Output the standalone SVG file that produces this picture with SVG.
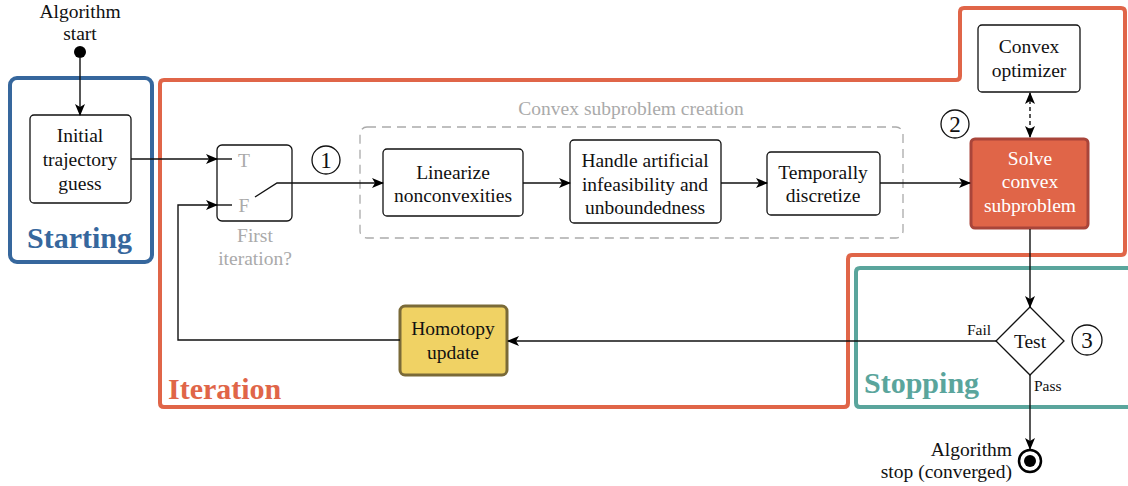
<svg xmlns="http://www.w3.org/2000/svg" width="1128" height="486" viewBox="0 0 1128 486" font-family="'Liberation Serif', 'Times New Roman', serif">
<defs>
<marker id="ah" viewBox="0 0 12 10" refX="11" refY="5" markerWidth="12" markerHeight="10" markerUnits="userSpaceOnUse" orient="auto-start-reverse">
<path d="M0,0 L12,5 L0,10 L3,5 Z" fill="#000"/>
</marker>
<style>
text{font-family:"Liberation Serif","Times New Roman",serif;font-size:19.5px;fill:#111;text-anchor:middle;dominant-baseline:central}
.box{fill:#fff;stroke:#111;stroke-width:1.3}
.conn{fill:none;stroke:#111;stroke-width:1.4}
.grey{fill:#aaa}
.small{font-size:15.5px}
.title{font-weight:bold;font-size:30px;text-anchor:start}
.num{fill:#fff;stroke:#111;stroke-width:1.3}
.n{font-size:23px}
</style>
</defs>
<g id="regions">
<rect x="10" y="78" width="142" height="184" rx="7" fill="none" stroke="#36679d" stroke-width="4"/>
<text class="title" x="27" y="237" style="fill:#36679d">Starting</text>
<path d="M167,80 H956 Q960,80 960,76 V12 Q960,8 964,8 H1121 Q1125,8 1125,12 V251 Q1125,255 1121,255 H852 Q848,255 848,259 V403 Q848,407 844,407 H164 Q160,407 160,403 V84 Q160,80 164,80 Z" fill="none" stroke="#e06548" stroke-width="4"/>
<text class="title" x="168" y="388" style="fill:#e06548">Iteration</text>
<path d="M860,268 H1132 V407 H860 Q856,407 856,403 V272 Q856,268 860,268 Z" fill="none" stroke="#5aa59c" stroke-width="4"/>
<text class="title" x="864" y="382" style="fill:#5aa59c">Stopping</text>
<rect x="360" y="127" width="543" height="111" rx="7" fill="none" stroke="#aaa" stroke-width="1.3" stroke-dasharray="9,6"/>
<text class="grey" x="631" y="108" style="fill:#aaa">Convex subproblem creation</text>
</g>
<g id="start">
<text x="80" y="11">Algorithm</text>
<text x="80" y="33">start</text>
<circle cx="80" cy="52" r="6" fill="#000"/>
</g>
<g id="initial">
<rect class="box" x="30" y="115" width="101" height="88" rx="4"/>
<text x="80" y="135">Initial</text>
<text x="80" y="159">trajectory</text>
<text x="80" y="183">guess</text>
</g>
<g id="switch">
<rect x="217" y="145" width="75" height="76" rx="5" fill="none" stroke="#111" stroke-width="1.3"/>
<text x="244" y="160" style="fill:#aaa">T</text>
<text x="244" y="205" style="fill:#aaa">F</text>
<text x="255" y="235" style="fill:#aaa">First</text>
<text x="255" y="258" style="fill:#aaa">iteration?</text>
</g>
<g id="n1"><circle class="num" cx="326" cy="160" r="14"/><text class="n" x="326" y="160">1</text></g>
<g id="linearize">
<rect class="box" x="383" y="149" width="140" height="67" rx="4"/>
<text x="453" y="172">Linearize</text>
<text x="453" y="195">nonconvexities</text>
</g>
<g id="handle">
<rect class="box" x="570" y="140" width="151" height="83" rx="4"/>
<text x="645" y="160">Handle artificial</text>
<text x="645" y="184">infeasibility and</text>
<text x="645" y="207">unboundedness</text>
</g>
<g id="temporal">
<rect class="box" x="767" y="152" width="113" height="63" rx="4"/>
<text x="823" y="172">Temporally</text>
<text x="823" y="195">discretize</text>
</g>
<g id="optimizer">
<rect class="box" x="978" y="25" width="102" height="67" rx="4"/>
<text x="1029" y="46">Convex</text>
<text x="1029" y="70">optimizer</text>
</g>
<g id="n2"><circle class="num" cx="955" cy="124" r="14"/><text class="n" x="955" y="124">2</text></g>
<g id="solve">
<rect x="971" y="139" width="117" height="89" rx="4" fill="#e06548" stroke="#a9453a" stroke-width="3"/>
<text x="1030" y="158" style="fill:#fff">Solve</text>
<text x="1030" y="181" style="fill:#fff">convex</text>
<text x="1030" y="205" style="fill:#fff">subproblem</text>
</g>
<g id="test">
<polygon points="1030,307 1064,341 1030,375 996,341" fill="#fff" stroke="#111" stroke-width="1.3"/>
<text x="1030" y="341">Test</text>
</g>
<g id="n3"><circle class="num" cx="1087" cy="340" r="15"/><text class="n" x="1087" y="340">3</text></g>
<g id="homotopy">
<rect x="400" y="306" width="107" height="69" rx="5" fill="#f0d264" stroke="#7a6a38" stroke-width="3"/>
<text x="453" y="328">Homotopy</text>
<text x="453" y="352">update</text>
</g>
<g id="stop">
<circle cx="1030" cy="461" r="11" fill="#fff" stroke="#000" stroke-width="2.5"/>
<circle cx="1030" cy="461" r="6" fill="#000"/>
<text x="1012" y="449" style="text-anchor:end">Algorithm</text>
<text x="1012" y="471" style="text-anchor:end">stop (converged)</text>
</g>
<g id="connectors">
<line class="conn" x1="80" y1="58" x2="80" y2="115" marker-end="url(#ah)"/>
<line class="conn" x1="131" y1="159" x2="217" y2="159" marker-end="url(#ah)"/>
<line class="conn" x1="217" y1="159" x2="232" y2="159"/>
<path class="conn" d="M400,340 H178 V205 H217" marker-end="url(#ah)"/>
<line class="conn" x1="217" y1="205" x2="232" y2="205"/>
<path class="conn" d="M255,197 L277,183 H383" marker-end="url(#ah)"/>
<line class="conn" x1="523" y1="183" x2="570" y2="183" marker-end="url(#ah)"/>
<line class="conn" x1="721" y1="183" x2="767" y2="183" marker-end="url(#ah)"/>
<line class="conn" x1="880" y1="183" x2="970" y2="183" marker-end="url(#ah)"/>
<line class="conn" x1="1030" y1="93" x2="1030" y2="137" stroke-dasharray="4,3" marker-start="url(#ah)" marker-end="url(#ah)"/>
<line class="conn" x1="1030" y1="229" x2="1030" y2="307" marker-end="url(#ah)"/>
<line class="conn" x1="996" y1="341" x2="508" y2="341" marker-end="url(#ah)"/>
<text class="small" x="991" y="329" style="text-anchor:end">Fail</text>
<line class="conn" x1="1030" y1="375" x2="1030" y2="449" marker-end="url(#ah)"/>
<text class="small" x="1034" y="385" style="text-anchor:start">Pass</text>
</g>
</svg>
